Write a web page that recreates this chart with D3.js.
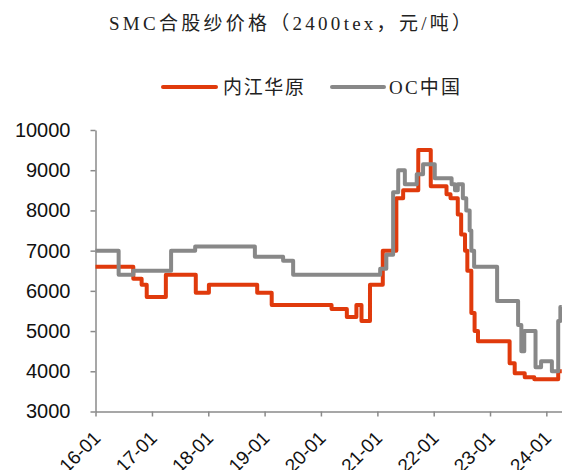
<!DOCTYPE html>
<html>
<head>
<meta charset="utf-8">
<script src="https://cdn.jsdelivr.net/npm/d3@7"></script>
<style>
  html, body { margin: 0; padding: 0; background: #fff; }
  svg { display: block; }
</style>
</head>
<body>
<svg id="chart" width="562" height="470"></svg>
<script>
// ---- data ----
const title = "SMC合股纱价格（2400tex，元/吨）";
const seriesNames = ["内江华原", "OC中国"];
const seriesColors = ["#E03A0C", "#888888"];
const yTicks = [3000, 4000, 5000, 6000, 7000, 8000, 9000, 10000];
const xTickYears = ["2016-01-01","2017-01-01","2018-01-01","2019-01-01","2020-01-01","2021-01-01","2022-01-01","2023-01-01","2024-01-01"];

const neijiangDates = ["2016-01-01","2016-09-02","2016-10-26","2016-11-28","2017-04-01","2017-10-12","2018-01-05","2018-11-14","2019-02-16","2020-03-10","2020-06-17","2020-08-18","2020-09-20","2020-11-14","2021-02-05","2021-05-04","2021-06-17","2021-09-23","2021-12-13","2022-03-25","2022-04-20","2022-06-06","2022-06-28","2022-07-23","2022-08-07","2022-09-02","2022-09-23","2022-10-15","2023-05-08","2023-06-10","2023-08-14","2023-10-15","2024-03-18","2024-04-10"];
const neijiangValues = [6600,6300,6150,5850,6400,5950,6150,5950,5650,5550,5350,5650,5250,6150,7000,8300,8500,9500,8600,8400,8300,7900,7400,7000,6500,5450,5000,4750,4200,3950,3850,3800,4000,4000];

const ocDates = ["2016-01-01","2016-05-30","2016-09-02","2017-05-05","2017-10-08","2018-10-30","2019-05-01","2019-07-05","2021-01-19","2021-02-28","2021-04-13","2021-05-16","2021-06-28","2021-09-13","2021-10-24","2022-01-08","2022-04-27","2022-05-19","2022-06-06","2022-07-09","2022-07-31","2022-08-22","2022-09-02","2022-09-20","2023-02-16","2023-07-02","2023-07-23","2023-08-11","2023-10-23","2023-11-28","2024-02-06","2024-03-18","2024-04-01","2024-04-10"];
const ocValues = [7000,6400,6500,7000,7100,6850,6750,6400,6550,6900,8450,9000,8650,8900,9150,8800,8650,8500,8650,8300,8000,7500,7000,6600,5750,5150,4500,5000,4100,4250,4000,5250,5600,5600];

// ---- chart ----
const svg = d3.select("#chart");
const parse = d3.timeParse("%Y-%m-%d");

const x = d3.scaleTime()
  .domain([parse("2016-01-01"), parse("2024-05-01")])
  .range([95.5, 565]);
const y = d3.scaleLinear()
  .domain([3000, 10000])
  .range([411.5, 130]);

const axisColor = "#8a8a8a";

// title
svg.append("text")
  .attr("x", 290).attr("y", 30)
  .attr("text-anchor", "middle")
  .attr("font-family", "'Liberation Serif', 'Noto Sans CJK SC', serif")
  .attr("font-size", 19)
  .attr("fill", "#222")
  .attr("textLength", 362)
  .attr("lengthAdjust", "spacing")
  .text(title);

// legend
const legendItems = [
  {name: seriesNames[0], color: seriesColors[0], x0: 163, x1: 216, tx: 223, tw: 81},
  {name: seriesNames[1], color: seriesColors[1], x0: 332, x1: 384, tx: 389, tw: 71}
];
const lg = svg.append("g");
legendItems.forEach(it => {
  lg.append("line")
    .attr("x1", it.x0).attr("x2", it.x1)
    .attr("y1", 87).attr("y2", 87)
    .attr("stroke", it.color).attr("stroke-width", 4)
    .attr("stroke-linecap", "round");
  lg.append("text")
    .attr("x", it.tx).attr("y", 87)
    .attr("dy", "0.36em")
    .attr("font-family", "'Liberation Serif', 'Noto Sans CJK SC', serif")
    .attr("font-size", 19)
    .attr("fill", "#222")
    .attr("textLength", it.tw)
    .attr("lengthAdjust", "spacing")
    .text(it.name);
});

// y axis
const yAxis = svg.append("g")
  .attr("transform", `translate(${x.range()[0]},0)`)
  .call(d3.axisLeft(y).tickValues(yTicks).tickFormat(d3.format("d")).tickSize(5).tickSizeOuter(0).tickPadding(20));
yAxis.selectAll("text")
  .attr("font-family", "'Liberation Sans', Arial, sans-serif")
  .attr("font-size", 20)
  .attr("fill", "#111");

// x axis
const xAxis = svg.append("g")
  .attr("transform", `translate(0,${y.range()[0]})`)
  .call(d3.axisBottom(x).tickValues(xTickYears.map(parse)).tickFormat(d3.timeFormat("%y-%m")).tickSize(5).tickSizeOuter(0));
xAxis.selectAll("text")
  .attr("font-family", "'Liberation Sans', Arial, sans-serif")
  .attr("font-size", 19)
  .attr("fill", "#111")
  .attr("text-anchor", "end")
  .attr("dy", "0")
  .attr("transform", "translate(0,22) rotate(-45)");

[yAxis, xAxis].forEach(a => {
  a.select(".domain").attr("stroke", axisColor).attr("stroke-width", 1.5);
  a.selectAll(".tick line").attr("stroke", axisColor).attr("stroke-width", 1.5);
});

// lines
const line = d3.line()
  .x(d => x(d.date))
  .y(d => y(d.v))
  .curve(d3.curveStepAfter);

const series = [
  {dates: neijiangDates, values: neijiangValues, color: seriesColors[0]},
  {dates: ocDates, values: ocValues, color: seriesColors[1]}
];
series.forEach(s => {
  const data = s.dates.map((d, i) => ({date: parse(d), v: s.values[i]}));
  svg.append("path")
    .datum(data)
    .attr("fill", "none")
    .attr("stroke", s.color)
    .attr("stroke-width", 4)
    .attr("stroke-linejoin", "round")
    .attr("d", line);
});
</script>
</body>
</html>
